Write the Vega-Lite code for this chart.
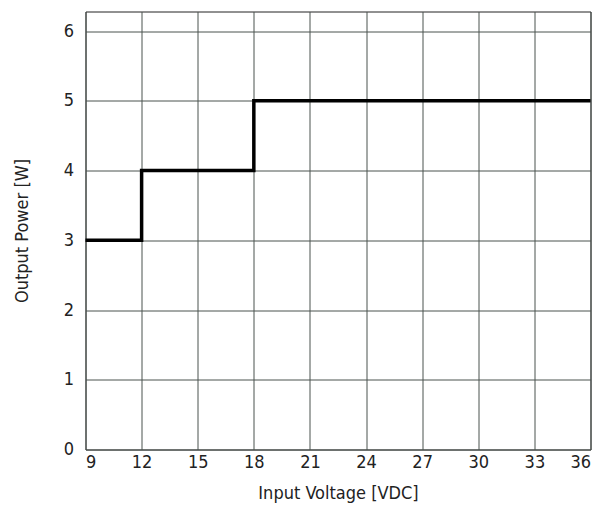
{
  "$schema": "https://vega.github.io/schema/vega-lite/v6.json",
  "width": 505,
  "height": 438,
  "autosize": {"type": "none"},
  "padding": {"left": 85.5, "top": 11.5, "right": 12, "bottom": 73},
  "background": "white",
  "config": {
    "view": {"stroke": "#222", "strokeWidth": 1},
    "font": "DejaVu Sans Condensed, Liberation Sans, sans-serif",
    "axis": {
      "labelFont": "DejaVu Sans Condensed, Liberation Sans, sans-serif",
      "titleFont": "DejaVu Sans Condensed, Liberation Sans, sans-serif",
      "labelFontSize": 18,
      "titleFontSize": 18,
      "titleFontWeight": "normal",
      "labelColor": "#222",
      "titleColor": "#222",
      "gridColor": "#4a524e",
      "gridOpacity": 1,
      "gridWidth": 1,
      "ticks": false,
      "domain": false
    }
  },
  "data": {
    "values": [
      {"v": 9, "p": 3},
      {"v": 12, "p": 4},
      {"v": 18, "p": 5},
      {"v": 36, "p": 5}
    ]
  },
  "mark": {"type": "line", "interpolate": "step-after", "color": "black", "strokeWidth": 3.5},
  "encoding": {
    "x": {
      "field": "v", "type": "quantitative",
      "scale": {"domain": [9, 36], "nice": false},
      "axis": {"values": [9,12,15,18,21,24,27,30,33,36], "title": "Input Voltage [VDC]", "labelPadding": 4, "titlePadding": 13}
    },
    "y": {
      "field": "p", "type": "quantitative",
      "scale": {"domain": [0, 6.28], "nice": false},
      "axis": {"values": [0,1,2,3,4,5,6], "title": "Output Power [W]", "labelPadding": 12, "titlePadding": 32}
    }
  }
}
